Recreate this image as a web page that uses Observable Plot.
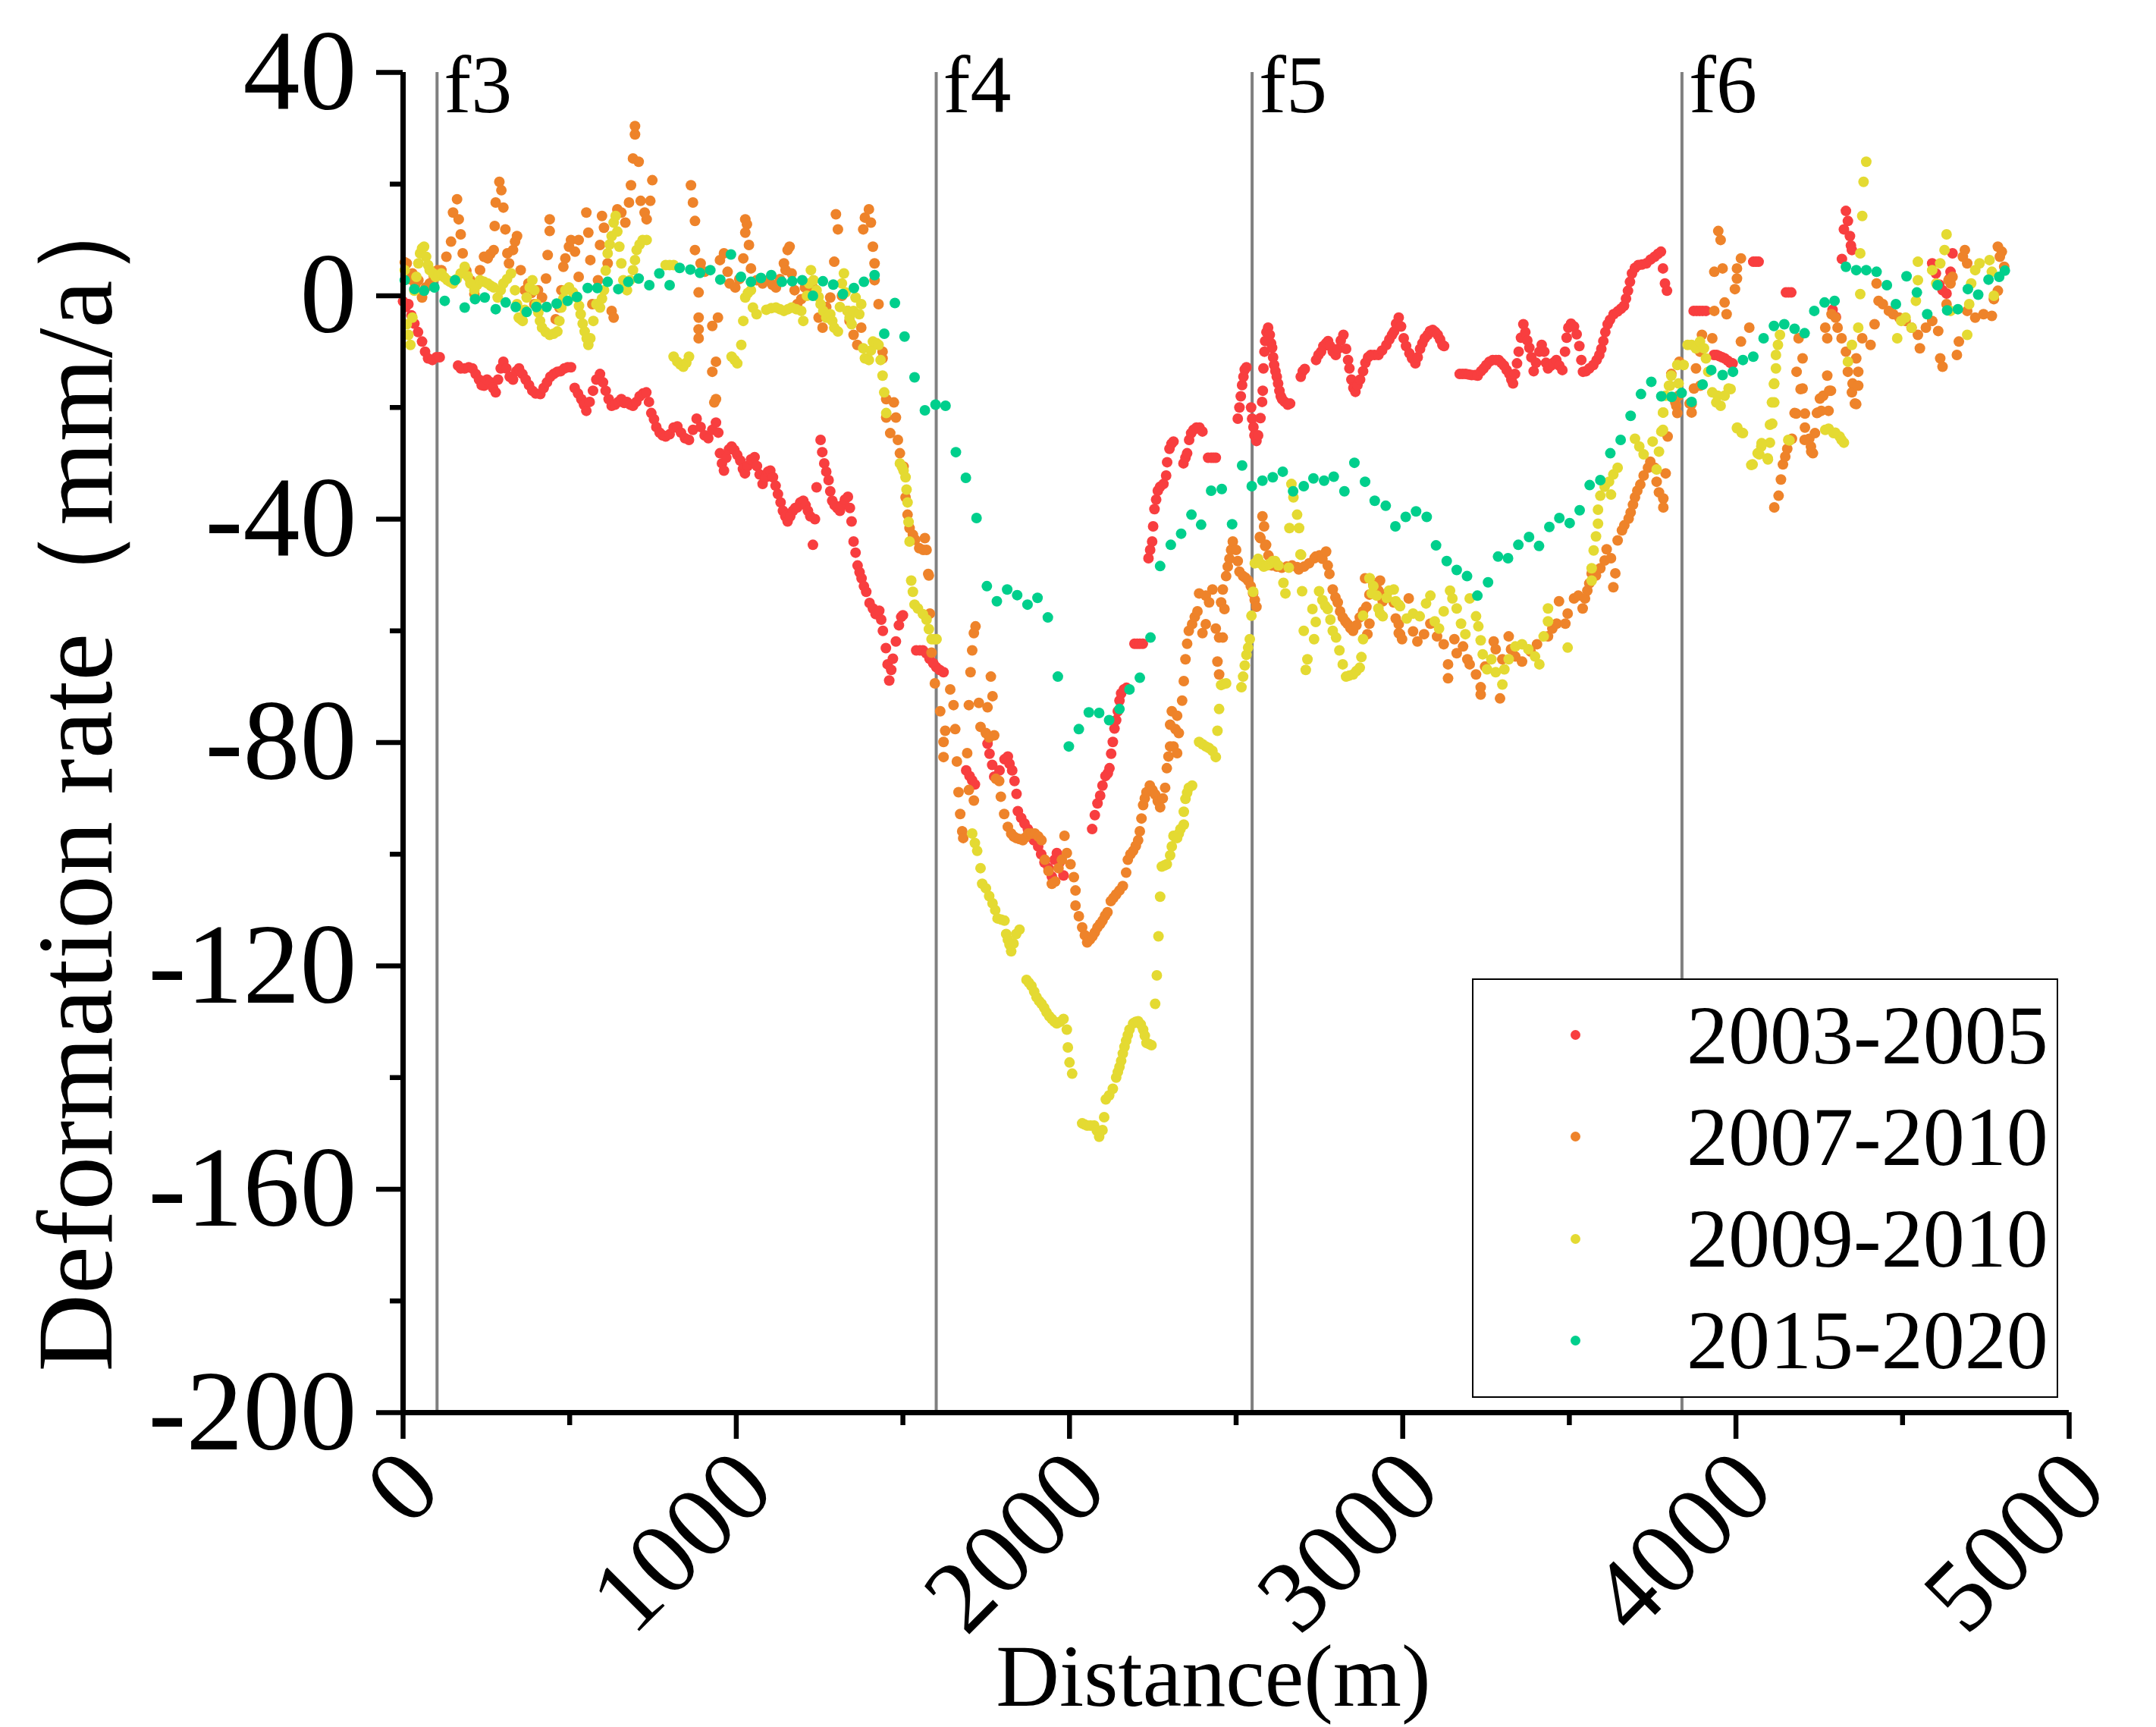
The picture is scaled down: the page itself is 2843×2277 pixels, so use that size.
<!DOCTYPE html>
<html>
<head>
<meta charset="utf-8">
<script src="https://cdn.jsdelivr.net/npm/d3@7"></script>
<script src="https://cdn.jsdelivr.net/npm/@observablehq/plot@0.6"></script>
<style>
  html, body { margin: 0; padding: 0; background: #fff; }
  #wrap { position: relative; width: 2843px; height: 2277px; }
  #wrap svg { display: block; }
  #legend { position: absolute; left: 1941px; top: 1290px; width: 773px; height: 553px; box-sizing: border-box;
            border: 2.5px solid #000; background: #fff; font-family: "Liberation Serif", "Times New Roman", serif; }
  .ldot { position: absolute; width: 13px; height: 13px; border-radius: 50%; }
  .ltxt { position: absolute; font-size: 110px; line-height: 110px; color: #000; white-space: nowrap; }
</style>
</head>
<body>
<div id="wrap"></div>
<script>
// ---------- data (distance m, deformation rate mm/a) ----------
const seriesNames = ["2003-2005", "2007-2010", "2009-2010", "2015-2020"];
const seriesColors = ["#F83E3F", "#EE832A", "#E4DA32", "#00CF8C"];

const faultNames = ["f3", "f4", "f5", "f6"];
const faultPos = [102, 1600, 2548, 3838];

const xMajor = [0, 1000, 2000, 3000, 4000, 5000];
const xMinor = [500, 1500, 2500, 3500, 4500];
const yMajor = [40, 0, -40, -80, -120, -160, -200];
const yMinor = [20, -20, -60, -100, -140, -180];

const red = [
[0,-1],[8,-2],[16,-1.5],[25,-3.5],[34,-5],[45,-6.5],[57,-8.2],[66,-10],[75,-11.2],[88,-11.5],[100,-11],[110,-11],
[165,-12.5],[173,-13],[185,-13],[197,-12.8],[208,-13],[218,-14],[228,-15],[236,-16],[243,-16.1],[252,-15],[262,-15.5],[270,-16.5],[278,-17.3],[285,-15],[293,-13],[301,-11.8],[310,-13],[320,-14.5],[330,-15],[340,-13.5],[348,-13],[358,-14],[368,-15],[378,-16],[388,-17],[398,-17.5],[412,-17.6],[422,-16.5],[432,-15.5],[442,-14.5],[452,-14],[463,-13.6],[473,-13.5],[484,-13],[494,-12.8],[504,-12.8],
[515,-16.5],[525,-17.5],[535,-18.5],[543,-19.5],[550,-20.6],[560,-19],[570,-17],[580,-15],[591,-14],[600,-15.5],[608,-17],[617,-18.5],[626,-19.7],[636,-19.5],[646,-19],[655,-18.5],[664,-19.2],[672,-19],[682,-19.5],[690,-19.7],[700,-19],[710,-18],[720,-17.5],[730,-17.3],[738,-19],[745,-21],[753,-22.1],[760,-23.5],[770,-24.5],[779,-25],[788,-25.2],[800,-24.8],[812,-23.6],[823,-23.4],[834,-24.5],[846,-25.5],[858,-25.8],[870,-24],[881,-22],[893,-23.5],[905,-25],[916,-25.5],[928,-24],[939,-22.7],[946,-24.5],[951,-28.2],[957,-30],[963,-31.3],[970,-29],[978,-27.5],[986,-27],[994,-27.6],[1003,-28.5],[1012,-29.5],[1020,-31],[1026,-31.8],[1034,-30.5],[1044,-29.3],[1055,-28.9],[1062,-30.5],[1070,-32],[1079,-33.7],[1088,-32.5],[1095,-31.5],[1102,-31.3],[1110,-32.5],[1118,-34],[1125,-35.5],[1133,-37],[1140,-38.5],[1147,-39.5],[1154,-40.4],[1162,-39.5],[1170,-38.5],[1177,-38],[1183,-37.9],[1192,-37],[1201,-36.7],[1208,-37.5],[1215,-38.5],[1222,-39.5],[1230,-44.6],[1236,-40],[1241,-34.3],[1253,-25.8],[1258,-28],[1264,-30],[1270,-31.5],[1277,-33],[1282,-35],[1288,-36.7],[1295,-37.5],[1303,-38],[1311,-38.5],[1318,-37.5],[1326,-36.5],[1335,-36],[1341,-38],[1346,-40.4],[1352,-44],[1358,-46],[1364,-48.3],[1370,-49.5],[1376,-50.6],[1383,-52],[1390,-53],[1400,-55],[1410,-56],[1418,-57],[1429,-56.4],[1435,-58],[1440,-60],[1449,-63.1],[1454,-66],[1459,-68.9],[1465,-67],[1470,-65],[1479,-61.9],[1488,-59],[1495,-57.5],[1500,-57.2],[1540,-63.5],[1551,-63.5],[1560,-63.5],[1570,-64],[1580,-65],[1591,-65.8],[1600,-66.5],[1610,-67],[1622,-67.4],
[1690,-85],[1700,-86],[1708,-86.8],[1716,-87.5],
[1754,-80.2],[1760,-82],[1768,-84],[1774,-86.1],[1790,-85],[1805,-83],[1815,-82.5],[1820,-83.8],[1828,-85],[1835,-86.9],[1841,-89.2],[1845,-92.3],[1855,-93.5],[1865,-94.5],[1875,-95.5],[1884,-96.5],[1893,-97.5],[1906,-98.6],[1915,-100],[1925,-101.5],[1937,-102.5],[1947,-104],[1955,-101],[1962,-99.8],[1970,-101.5],[1982,-103.8],
[2068,-95.5],[2076,-93],[2084,-90.9],[2092,-89.5],[2099,-87.7],[2108,-86],[2115,-85.5],[2120,-84.6],[2125,-82],[2130,-79.9],[2135,-77.5],[2140,-76],[2145,-74.4],[2150,-72.5],[2155,-71.2],[2163,-70.5],[2171,-70.2],
[2195,-62.3],[2203,-62.3],[2211,-62.3],[2220,-62.3],
[2237,-47],[2242,-45.5],[2248,-44],[2251,-41.3],[2255,-38.2],[2260,-36.5],[2265,-34.9],[2272,-34.2],[2282,-33.7],[2290,-32.2],[2293,-29.8],[2300,-27.4],[2306,-26.5],[2312,-26.1],
[2342,-30],[2348,-29],[2353,-28.2],[2359,-25.8],[2365,-24.6],[2372,-24],[2381,-23.6],[2390,-23.6],[2399,-24.3],
[2416,-29],[2425,-29],[2432,-29],[2439,-29],
[2505,-22],[2510,-20],[2514,-18],[2518,-16],[2522,-14.5],[2526,-13.2],[2531,-12.8],
[2545,-20],[2548,-22],[2552,-23.5],[2555,-25],[2561,-26],[2566,-25],[2573,-21.9],[2578,-19],[2580,-17],[2582,-13],[2585,-10],[2587,-8.1],[2591,-6.5],[2596,-5.7],[2601,-7],[2605,-8.5],[2608,-9.3],[2611,-11],[2614,-12.4],[2618,-13.5],[2622,-14.5],[2626,-15.7],[2630,-17],[2634,-18],[2638,-18.5],[2646,-19],[2655,-19.5],[2662,-19.3],
[2694,-14.5],[2700,-13.5],[2706,-13.1],
[2740,-11.5],[2747,-10.6],[2755,-10],[2762,-9],[2770,-8.5],[2776,-8.1],[2782,-9],[2790,-10],[2799,-10.6],[2806,-9.5],[2814,-8],[2822,-7],[2830,-9.5],[2836,-11.5],[2840,-13],[2846,-15],[2852,-16.5],[2858,-17.2],[2864,-16],[2872,-15],[2881,-13.5],[2888,-12],[2896,-11],[2904,-10.6],[2915,-10.6],[2927,-10.6],[2938,-9.8],[2951,-8.8],[2960,-7.8],[2968,-7],[2974,-6.4],[2980,-5],[2988,-3.9],[2995,-5.5],[3003,-7.6],[3010,-9],[3020,-10.3],[3028,-11.2],[3038,-12.1],[3045,-11],[3052,-9.5],[3059,-8.5],[3066,-7.6],[3075,-7],[3082,-6.3],[3090,-6.1],[3098,-6.5],[3105,-7],[3112,-7.8],[3119,-8.8],[3124,-9],
[3171,-14],[3180,-14],[3189,-14],[3198,-14.1],[3207,-14.2],[3217,-14.2],[3225,-14.3],[3235,-13.5],[3243,-13],[3251,-12.4],[3260,-11.8],[3270,-11.5],[3280,-11.5],[3288,-11.5],[3296,-12],[3304,-12.5],[3312,-13.3],[3320,-14],[3326,-15],[3331,-15.7],[3337,-14],[3343,-12.1],[3348,-10],[3355,-7.5],[3362,-5.1],[3368,-6.5],[3374,-8],[3380,-9.3],[3386,-11],[3393,-13.5],[3400,-12],[3410,-10],[3417,-8.8],[3425,-10],[3430,-12],[3436,-13],[3445,-12.5],[3452,-12],[3461,-11.5],[3470,-12.5],[3479,-13.3],[3487,-10],[3492,-7.5],[3497,-5.7],[3505,-5],[3514,-5.5],[3522,-6.9],[3530,-9],[3536,-11.5],[3541,-13.6],[3550,-13.5],[3560,-13],[3572,-12.4],[3582,-11.5],[3590,-10.6],[3596,-9.5],[3602,-8.1],[3608,-6.5],[3615,-5.1],[3622,-4.3],[3633,-3.3],[3645,-2.8],[3655,-2.3],[3664,-1.8],[3670,-0.5],[3676,0.9],[3682,2.5],[3688,4],[3697,5],[3707,5.5],[3718,5.6],[3731,5.8],[3744,6.5],[3756,7],[3766,7.5],[3775,7.9],[3781,4.9],[3787,2.2],[3793,0.9],
[3873,-2.7],[3882,-2.7],[3891,-2.7],[3900,-2.7],[3910,-2.7],
[3934,-10.6],[3942,-10.6],[3950,-10.8],[3958,-11],[3966,-11.2],[3975,-11.6],[3983,-12],[3990,-12.1],
[4052,6.1],[4060,6.1],[4068,6.1],
[4150,0.6],[4158,0.6],[4166,0.6],
[4290,-2.5],[4300,-3.8],
[4318,6.6],[4324,11.9],[4330,15.2],[4336,13.4],[4342,10.7],[4345,9],[4348,8.2],
[4589,5.8],[4600,4],[4610,2],[4620,1],[4632,0.4],[4640,3],[4644,4.3],[4650,7.6]
];

const orange = [
[5,6],[11,5.8],[20,3],[28,4],[37,2],[46,2.8],[57,-0.3],[68,1.5],[80,2.2],[92,3.5],[104,4.6],[115,4.6],[130,7],[144,9.7],[150,14.9],[162,17.3],[167,13.7],[173,11],[179,7.6],[190,4.5],[202,2.8],[214,0.3],[222,2],[231,4.6],[243,7],[254,6.7],[262,7.5],[272,8.2],[275,12.5],[278,16.7],[289,20.4],[295,18.9],[301,15.8],[307,11.9],[313,7.6],[318,5.8],[330,8.2],[336,9.7],[342,10.7],[353,4.6],[365,1],[376,2.2],[385,0.5],[394,-1.5],[405,1],[417,-0.3],[429,3.1],[434,7.3],[440,13.7],[440,11.6],[458,-4.2],[469,-2.1],[475,1],[481,5.2],[487,6.7],[498,8.8],[504,10],[516,7.9],[527,10],[527,3.4],[550,14.9],[556,11.3],[562,6.4],[568,-1.5],[585,2.8],[591,9.1],[597,14.3],[603,12.2],[614,5.8],[626,-2.7],[632,-3.9],[643,15.5],[655,14.9],[667,13.1],[678,16.7],[684,19.8],[690,24.6],[696,28.9],[696,30.4],[707,24],[713,17],[725,14.9],[731,13.7],[742,17],[748,20.7],
[864,19.8],[870,16.7],[876,13.4],[876,8.2],[887,0.6],[887,-3.9],[887,-6],[887,-7.6],[893,5.8],[905,4.3],[928,-5.4],[945,-3.9],[939,-11.8],[928,-13.6],[939,-18.5],[934,-19.1],[951,6.4],[963,7.6],[974,4.3],[980,2.2],[997,1.5],[1009,3],[1021,6.7],[1027,13.7],[1032,12.8],[1027,11.3],[1038,9.1],[1044,4.9],[1061,2.8],[1079,2.2],[1096,2.8],[1108,2],[1119,1.5],[1131,3],[1143,5.8],[1148,4.6],[1154,8.2],[1160,8.8],[1166,4],[1175,1],[1183,-1.5],[1195,-0.6],[1206,1.5],[1220,1],[1235,1.2],[1247,-3.9],[1259,-5.7],[1270,-2],[1282,-0.3],[1294,6.1],[1299,14.6],[1305,11.9],[1317,0],[1334,-2.7],[1340,-4.5],[1352,-7],[1363,-8.8],[1375,-5.7],[1381,11.9],[1386,14],[1398,15.5],[1404,13.1],[1410,8.8],[1415,5.8],[1415,2.8],[1427,-1.5],[1439,-10],[1439,-11.2],[1450,-18.5],[1473,-19.1],[1479,-21.8],[1450,-21.8],[1462,-24.6],[1485,-25.8],[1491,-28.2],[1502,-30.6],[1508,-36.1],[1514,-39.2],[1520,-41.6],[1530,-42.8],[1537,-43.7],[1549,-45.2],[1561,-45.5],[1566,-43.4],[1571,-45.5],[1576,-49.8],[1578,-50.1],[1581,-56.9],[1586,-63.9],[1596,-69.4],[1612,-74.4],[1622,-79.9],[1622,-82.6],[1627,-77.9],[1642,-70.5],[1652,-73.3],[1657,-77.6],[1662,-83.4],[1667,-88.9],[1672,-92.8],[1678,-95.9],[1681,-97.1],[1693,-81.9],[1698,-73.3],[1703,-67.4],[1708,-63.5],[1713,-60.4],[1718,-59.2],[1713,-90.4],[1698,-88.5],[1728,-72.9],[1733,-77.2],[1749,-78.3],[1759,-79.1],[1754,-73.7],[1764,-68.2],[1769,-71.7],[1774,-78.7],[1779,-86.5],[1789,-86.9],[1794,-89.7],[1804,-92.8],[1815,-95.1],[1825,-96.3],[1832,-96.8],[1840,-97.1],[1850,-97.3],[1860,-97.5],[1868,-97],[1876,-96.3],[1886,-96.3],[1896,-96.3],[1906,-96.8],[1916,-97.5],[1926,-101],[1937,-103],[1947,-105.3],[1957,-104.9],[1967,-102.5],[1977,-101],[1985,-96.7],[1992,-99.8],[2003,-101.8],[2013,-104.1],[2018,-106.5],[2018,-109.2],[2028,-111.1],[2038,-113.1],[2046,-114.5],[2053,-115.8],[2061,-115.3],[2069,-114.7],[2076,-114],[2084,-113.1],[2092,-112.5],[2099,-111.9],[2107,-111],[2114,-110.4],[2124,-108.4],[2132,-107.8],[2140,-107.2],[2150,-106.5],[2160,-105.7],[2170,-103.3],[2175,-101],[2183,-100],[2191,-99.4],[2199,-98.5],[2206,-97.5],[2211,-95.9],[2216,-93.6],[2221,-91.2],[2226,-90],[2231,-88.9],[2241,-87.7],[2249,-88.5],[2257,-89.3],[2265,-90.5],[2272,-91.6],[2280,-90],[2287,-88.1],[2292,-84.6],[2297,-82.5],[2302,-80.7],[2312,-80.7],[2318,-77.6],[2302,-76.8],[2307,-74.4],[2323,-75.2],[2328,-78.3],[2323,-81.9],[2338,-72.5],[2343,-69],[2348,-65.1],[2353,-62.3],[2358,-60],[2368,-58.8],[2376,-57.5],[2384,-56.5],[2389,-53.3],[2399,-60.4],[2409,-58.8],[2409,-53.7],[2419,-54.9],[2429,-52.6],[2439,-59.6],[2449,-61.2],[2455,-54.9],[2460,-52.6],[2444,-65.5],[2449,-67.8],[2460,-61.2],[2465,-56.1],[2470,-50.2],[2475,-48.5],[2480,-47.1],[2485,-45.5],[2490,-44],[2500,-45.5],[2505,-47.5],[2510,-49.4],[2521,-50.2],[2528,-50.5],[2536,-51],[2544,-52],[2551,-53.3],[2556,-54.5],[2561,-55.7],[2571,-43.2],[2579,-39.5],[2584,-41.3],[2573,-43.4],[2590,-44.6],[2587,-44.8],[2597,-46.5],[2607,-48.3],[2622,-48.5],[2637,-48.7],[2652,-48.5],[2668,-48.3],[2683,-48.6],[2688,-49],[2704,-48.5],[2719,-47.9],[2735,-47],[2739,-46.7],[2750,-46.5],[2759,-47.1],[2770,-45.8],[2775,-48.3],[2780,-49.8],[2790,-52.6],[2798,-54],[2805,-54.9],[2812,-56.5],[2820,-57.6],[2828,-58.3],[2835,-58.8],[2843,-59.5],[2851,-60],[2861,-59],[2871,-57.6],[2881,-56.5],[2891,-55.7],[2900,-53.5],[2912,-51.8],[2922,-51.5],[2932,-51],[2952,-53.3],[2973,-54.9],[2988,-58.8],[2988,-60.4],
[2887,-50.6],[2914,-51.5],[2927,-52.8],[2940,-54.7],[2900,-58.7],[2894,-60.6],[2979,-57.8],[2992,-60.6],[2998,-61.5],[3018,-54.2],[3031,-60.1],[3044,-61.9],[3064,-60.6],[3083,-58.7],[3103,-61],[3123,-62.4],[3136,-66],[3136,-68.5],[3155,-61.5],[3162,-64],[3181,-62.8],[3194,-65.1],[3201,-66],[3220,-67.8],[3234,-70.1],[3234,-71.4],[3247,-66.4],[3273,-61.9],[3279,-63.3],[3292,-72.1],[3299,-65.1],[3318,-61],[3325,-63.3],[3338,-64.6],[3358,-65.5],[3384,-63.7],[3403,-62.4],[3436,-61],[3449,-59.6],[3462,-58.7],[3469,-54.7],[3488,-58.7],[3495,-56.9],[3514,-54.2],[3527,-53.7],[3540,-56],[3547,-54.2],[3554,-52.8],[3560,-51.5],[3567,-49.7],[3580,-50.1],[3593,-48.8],[3606,-47.4],[3612,-45.4],[3625,-47],[3638,-49.7],[3632,-52.2],[3645,-43.8],[3658,-42],[3665,-41.1],[3678,-39.9],[3684,-38.8],[3691,-37.4],[3697,-36.1],[3704,-34.9],[3713,-33.8],[3723,-32.2],[3736,-30.8],[3743,-29.7],[3756,-30.8],[3762,-33.3],[3769,-35.2],[3782,-36.3],[3782,-37.9],[3789,-31.8],[3795,-25.2],[3821,-19.7],[3828,-17.9],[3861,-19.3],[3867,-20.9],[3874,-16.6],[3893,-16.1],
[3806,-14],[3830,-11.8],[3818,-19.1],[3824,-21],[3867,-19.4],[3880,-13],[3892,-10],[3898,-7],[3929,-7.6],[3935,-2.7],[3966,-1.2],[3972,-3.3],[3935,4.3],[3960,4.9],[4003,4.9],[4003,3.1],[3997,1.2],[4015,6.7],[3947,11.6],[3954,10],[4040,-5.7],[4015,-8.2],
[4115,-37.9],[4128,-35.8],[4135,-32.9],[4141,-30.2],[4148,-28.8],[4154,-27.4],[4168,-25.6],[4181,-21.1],[4207,-21.1],[4207,-23.6],[4220,-25.6],[4226,-27.9],[4246,-20.9],[4252,-18.4],[4278,-20.6],[4285,-17],[4200,-16.6],[4357,-19.3],[4350,-15.7],
[4188,-7.6],[4200,-11.2],[4182,-13.6],[4194,-16.7],[4176,-21],[4206,-25.8],[4225,-27],[4231,-28.2],[4237,-24.6],[4243,-21],[4256,-20.6],[4262,-17.9],[4280,-17],[4274,-14.3],[4268,-5.7],[4274,-7.6],[4287,-3.3],[4299,-3.9],[4305,-5.7],[4317,-7.6],[4330,-10],[4336,-13.6],[4348,-17.3],[4361,-19.4],[4367,-16.1],[4367,-13.6],[4361,-11.2],[4379,-7.6],[4404,-8.8],[4416,-5.1],[4422,2.2],[4428,-0.9],[4441,-1.5],[4459,-2.7],[4472,-3.3],[4490,-3.9],[4509,-4.5],[4527,-5.7],[4546,-7],[4552,-9.4],[4570,-5.7],[4589,-4.5],[4607,-6.3],[4613,-11.2],[4620,-12.7],[4632,-1.5],[4644,2.2],[4638,2.8],[4650,3.4],[4663,-10.6],[4669,-8.2],[4681,7],[4687,8.2],[4694,5.8],[4694,-2.7],[4718,-3.9],[4743,-3.3],[4768,-3.6],[4774,-0.6],[4786,0.9],[4786,8.8],[4798,7.9],[4805,5.2],[4792,7]
];

const yellow = [
[5,4.6],[11,-5.1],[16,-7],[22,-8.8],[28,-3.9],[34,0.9],[40,3.4],[46,5.8],[51,7.6],[57,8.5],[63,8.8],[69,7],[75,5.5],[80,4.6],[90,4],[98,3.4],[106,3.6],[115,4],[124,3.3],[133,2.8],[141,2.5],[150,2.2],[161,3],[173,4],[185,5.2],[194,3.5],[202,2.2],[214,1],[222,2],[231,2.8],[243,2.5],[254,2.2],[263,1.8],[272,1.5],[284,-0.3],[293,1],[301,2.2],[312,3],[324,4],[336,1],[342,-1.5],[347,-3.9],[353,-4.2],[359,-4.5],[365,-2.5],[371,-0.3],[380,1.5],[388,2.8],[394,1],[400,-1.5],[406,-3],[411,-4.5],[417,-5.7],[428,-6.5],[440,-7],[452,-6.8],[463,-6.4],[469,-4.5],[475,-2.1],[481,-0.5],[487,1],[498,1.5],[510,0.6],[522,-0.3],[528,-1.8],[533,-3.3],[539,-5],[545,-6.4],[551,-7.6],[556,-8.8],[562,-7.6],[571,-4.5],[580,-1.5],[591,-2.1],[597,-0.5],[603,1],[608,4.5],[614,7.6],[620,9.2],[626,10.7],[632,13.1],[638,14.3],[643,11.5],[649,8.8],[655,5.8],[661,2.8],[667,1.9],[672,1],[681,2.8],[690,4.6],[696,6.4],[701,8.2],[710,9.2],[719,10],[731,10],[788,5.5],[800,5.5],[812,5.5],[812,-10.9],[823,-11.8],[832,-12.3],[841,-12.7],[850,-12],[858,-10.9],[986,-10.9],[995,-11.5],[1003,-12.1],[1015,-8.8],[1021,-4.5],[1027,-0.3],[1035,0.5],[1044,1],[1050,-2.1],[1061,-3.3],[1090,-2.5],[1105,-2.2],[1119,-2.1],[1131,-2.4],[1143,-2.7],[1155,-2.4],[1166,-2.1],[1180,-2.4],[1195,-2.7],[1201,-4.5],[1212,0],[1218,2.2],[1224,4.6],[1232,2.8],[1241,1],[1247,-0.2],[1253,-1.5],[1261,-2.7],[1270,-3.9],[1282,-3.3],[1288,-4.5],[1294,-5.7],[1305,-6.4],[1311,-2],[1317,2.2],[1323,4],[1328,0.6],[1334,-2.7],[1340,-3.9],[1346,-5.1],[1352,-2.7],[1358,-0.3],[1369,-3.3],[1375,-1.5],[1381,-9.4],[1386,-11.2],[1398,-11.5],[1404,-9.8],[1410,-8.2],[1421,-8.5],[1427,-8.8],[1433,-11.5],[1439,-14.3],[1444,-17.3],[1450,-21],[1491,-30],[1497,-30.6],[1502,-31.3],[1508,-32.5],[1511,-34.7],[1514,-37],[1517,-40.5],[1520,-44],[1525,-51],[1530,-53],[1535,-55.3],[1545,-56],[1560,-57],[1571,-58],[1578,-59.7],[1586,-61.5],[1594,-61.5],[1601,-61.5],
[1708,-96.3],[1716,-98],[1723,-99.4],[1733,-102.5],[1738,-105.3],[1749,-106.1],[1759,-107.5],[1769,-108.8],[1777,-110],[1784,-111.5],[1795,-111.7],[1805,-111.9],[1810,-114.3],[1815,-115.3],[1820,-116.2],[1825,-117.4],[1832,-116],[1840,-114.3],[1850,-113.5],[1871,-122.5],[1878,-123],[1886,-123.6],[1894,-124.6],[1901,-125.6],[1909,-126.3],[1916,-126.8],[1924,-127.5],[1931,-128.3],[1939,-129],[1947,-129.5],[1955,-130],[1962,-130.3],[1972,-130],[1982,-129.5],[1992,-131.4],[1995,-134.6],[2000,-137.3],[2008,-139.3],[2038,-148.2],[2045,-148.4],[2053,-148.6],[2063,-148.6],[2074,-148.6],[2082,-149.5],[2089,-150.6],[2099,-149.4],[2104,-147.1],[2109,-143.9],[2119,-143.2],[2130,-142],[2140,-140],[2145,-139],[2150,-138.1],[2155,-137],[2160,-135.7],[2165,-134.5],[2170,-133.4],[2175,-132.4],[2180,-131.4],[2191,-130.3],[2199,-130],[2206,-129.9],[2214,-130.5],[2221,-131.4],[2226,-132.5],[2231,-133.8],[2239,-134],[2246,-134.2],[2257,-126.8],[2262,-121.7],[2267,-114.7],[2272,-107.6],[2277,-102.2],[2285,-102],[2292,-101.8],[2302,-100.2],[2307,-98.6],[2312,-96.7],[2318,-97],[2323,-97.1],[2328,-96.3],[2333,-95.5],[2343,-94.7],[2343,-92.4],[2348,-90.1],[2353,-89],[2358,-88.1],[2368,-87.7],[2389,-79.9],[2399,-80.3],[2409,-80.7],[2419,-81],[2429,-81.5],[2439,-82.6],[2444,-77.9],[2449,-74],[2455,-69.7],[2462,-69.5],[2470,-69.4],[2516,-70.1],[2521,-68.2],[2526,-66.2],[2531,-64.3],[2536,-63],[2541,-61.5],[2546,-57.3],[2551,-53],[2556,-47.9],[2566,-47.1],[2575,-48],[2583,-48.5],[2592,-48.3],[2600,-48],[2610,-47.5],[2617,-47.5],[2627,-48.3],[2642,-51.4],[2648,-53.3],[2658,-48.7],[2660,-41.6],[2666,-33.7],[2672,-36.1],[2683,-39.2],[2689,-41.6],[2695,-46.4],[2693,-46.3],[2698,-52.9],[2703,-60],[2709,-67],[2714,-65.1],[2729,-56.1],[2734,-61.5],[2739,-58.4],[2749,-52.9],[2759,-54.5],[2767,-55.5],[2775,-56.1],[2783,-58],[2790,-60],[2800,-61.2],[2810,-63.5],[2820,-66],[2830,-68.2],[2840,-68],[2851,-67.8],[2861,-67.2],[2871,-66.6],[2876,-64.7],[2881,-61.5],[2881,-57.3],[2901,-50.6],[2912,-52],[2922,-53.7],[2932,-56.9],[2952,-54.1],[2973,-52.6],[2988,-55.3],
[2900,-50.6],[2907,-53.3],[2927,-56],[2940,-57.4],[2959,-52.8],[2979,-54.7],[2992,-55.6],[3012,-57.8],[3031,-56.9],[3051,-57.4],[3070,-55.1],[3083,-53.7],[3096,-58.3],[3109,-59.6],[3123,-56.5],[3142,-52.8],[3149,-54.2],[3162,-56],[3175,-58.7],[3188,-60.6],[3201,-54.2],[3220,-57.4],[3227,-59.2],[3234,-61.7],[3240,-64.2],[3253,-66.9],[3266,-65.1],[3279,-67.4],[3299,-69.6],[3305,-66.9],[3318,-65.1],[3338,-62.8],[3358,-62.4],[3377,-63.3],[3397,-64.6],[3410,-66],[3423,-61],[3436,-58.3],[3436,-56],[3495,-63],[3567,-51],[3567,-48.8],[3573,-45.6],[3580,-43.1],[3586,-40.8],[3586,-38.3],[3593,-35.8],[3606,-34.2],[3619,-33.3],[3625,-35.6],[3632,-32],[3645,-30.8],[3697,-25.6],[3710,-27],[3723,-28.4],[3750,-26.1],[3769,-27.9],[3762,-31.1],[3776,-24.3],[3782,-20.9],[3789,-17.9],[3802,-16.1],[3828,-15.7],[3945,-17.9],[3978,-16.6],[4004,-23.6],[4017,-24.5],[4050,-30.2],[4070,-28.4],[4076,-27],[4096,-29.3],[4102,-26.3],[4109,-22.9],[4115,-19.1],[4115,-15.7],[4161,-25.9],[4278,-23.8],[4298,-24.5],[4311,-25.2],[4324,-26.3],
[3781,-20.9],[3781,-24],[3799,-16.1],[3806,-14.3],[3824,-12.4],[3843,-12.4],[3855,-8.8],[3867,-8.8],[3880,-9.4],[3892,-8.2],[3904,-9.4],[3910,-11.2],[3917,-13.6],[3929,-17.3],[3941,-19.1],[3954,-19.7],[3966,-17.9],[3984,-16.7],[4003,-23.7],[4021,-24.6],[4046,-30.3],[4065,-28.2],[4077,-26.4],[4095,-29.1],[4102,-23.1],[4108,-19.1],[4114,-15.8],[4120,-13],[4120,-10.6],[4126,-8.8],[4132,-7],[4157,-25.8],[4268,-24],[4293,-24.6],[4317,-25.8],[4336,-11.8],[4348,-8.8],[4367,-5.7],[4373,0.3],[4373,7.6],[4379,14.3],[4383,20.4],[4391,24],[4484,-7.6],[4496,-4.5],[4509,-3.9],[4527,-5.7],[4540,-0.9],[4546,2.8],[4546,6.1],[4589,4.6],[4601,2.2],[4613,5.8],[4626,8.2],[4632,11],[4644,-2.7],[4694,-7],[4700,-1.5],[4706,2.2],[4718,4.6],[4731,5.8],[4761,6.4],[4774,0],[4768,4.3]
];

const green = [
[5,2.8],[34,1.2],[63,0.9],[94,1.5],[125,-0.9],[156,2.8],[185,-2.1],[216,-0.6],[245,-0.3],[278,-2.4],[308,-1.2],[338,-2],[371,-2.9],[400,-2],[431,-2],[461,-1.4],[494,-0.9],[522,-0.2],[554,1.4],[583,1.4],[614,2.5],[646,1.2],[676,2.5],[707,3.1],[739,1.9],[769,4],[800,1.9],[830,5],[862,4.7],[891,4.1],[922,4.6],[952,2.9],[984,7.4],[1014,3.4],[1044,2.5],[1074,3.2],[1105,3.7],[1137,2.5],[1168,2.6],[1198,2.8],[1230,0],[1260,2.6],[1291,2],[1320,0.3],[1353,1.4],[1383,2.5],[1415,3.7],[1444,-6.8],[1476,-1.3],[1505,-7.3],[1535,-14.6],[1566,-20.5],[1598,-19.5],[1628,-19.7],[1659,-28],[1689,-32.6],[1721,-39.8],
[1752,-52],[1782,-54.7],[1813,-52.6],[1843,-53.6],[1874,-55.3],[1904,-54.1],[1935,-57.6],[1965,-68.2],[1998,-80.7],[2028,-77.6],[2058,-74.6],[2089,-74.7],[2119,-76],[2150,-74],[2180,-70.5],[2211,-68.4],[2243,-61.2],[2272,-48.4],[2304,-44.6],[2335,-42.6],[2366,-39.2],[2395,-41],[2425,-34.9],[2457,-34.6],[2488,-40.9],[2518,-30.4],[2547,-34.1],[2579,-33.1],[2610,-32.5],[2640,-31.5],[2671,-35],[2703,-34.1],[2732,-32.7],[2764,-33.1],[2793,-32.4],[2825,-35],[2855,-29.9],[2887,-33.3],[2916,-36.7],[2949,-37.6],[2978,-41.3],[3009,-39.6],[3040,-38.6],[3072,-39.6],[3100,-44.7],[3132,-47.5],[3162,-49.1],[3193,-50.2],[3224,-53.7],[3256,-51.3],[3286,-46.7],[3316,-47],[3347,-44.6],[3379,-43.2],[3409,-44.8],[3440,-41.4],[3470,-39.8],[3501,-40.7],[3531,-38.4],[3561,-33.9],[3593,-33],[3623,-28.2],[3654,-25.8],[3684,-21.5],[3715,-17.6],[3746,-15.4],[3776,-18],[3807,-18.1],[3837,-17.4],[3867,-19],[3900,-15.9],[3926,-13.3],[3960,-14.2],[3991,-13.6],[4021,-11.5],[4052,-10.9],[4083,-7.6],[4114,-5.4],[4145,-5.1],[4176,-5.9],[4206,-6.7],[4235,-2.7],[4266,-1.2],[4296,-0.9],[4330,5.2],[4361,4.6],[4391,4.6],[4422,4.3],[4453,1.9],[4480,-1.5],[4512,3.5],[4543,0.6],[4574,-3.3],[4605,1.9],[4634,-2.6],[4666,-2.4],[4696,1.2],[4727,0.2],[4758,2.9],[4790,3.4],[4807,4.5]
];

const allSeries = [red, orange, yellow, green];

// ---------- chart ----------
const serif = "'Liberation Serif', 'Times New Roman', Times, serif";
const dotMarks = allSeries.map((s, i) =>
  Plot.dot(s, {x: d => d[0], y: d => d[1], r: 7, fill: seriesColors[i], stroke: "none"})
);

const chart = Plot.plot({
  width: 2843,
  height: 2277,
  marginLeft: 531,
  marginRight: 115,
  marginTop: 95,
  marginBottom: 415,
  x: {domain: [0, 5000]},
  y: {domain: [-200, 40]},
  style: {fontFamily: serif, background: "#fff", color: "#000", overflow: "visible"},
  marks: [
    Plot.ruleX(faultPos, {x: d => d, stroke: "#808080", strokeWidth: 4}),
    Plot.text(faultPos, {x: d => d, frameAnchor: "top", text: (d, i) => faultNames[i],
      textAnchor: "start", lineAnchor: "top", dx: 9, dy: -24, fontSize: 108, fill: "#000"}),
    ...dotMarks,
    Plot.axisY({ticks: yMajor, tickSize: 35, tickPadding: 26, tickFormat: d => String(d),
      fontSize: 150, strokeWidth: 6.5, label: null}),
    Plot.axisY({ticks: yMinor, tickSize: 17, text: null, strokeWidth: 6.5, label: null}),
    Plot.axisX({ticks: xMajor, tickSize: 35, text: null, strokeWidth: 6.5, label: null}),
    Plot.axisX({ticks: xMinor, tickSize: 17, text: null, strokeWidth: 6.5, label: null}),
    Plot.text(xMajor, {x: d => d, frameAnchor: "bottom", text: d => String(d), rotate: -45,
      textAnchor: "end", lineAnchor: "middle", dx: 24, dy: 75, fontSize: 135, fill: "#000"}),
    Plot.ruleX([0], {stroke: "#000", strokeWidth: 7}),
    Plot.ruleY([-200], {stroke: "#000", strokeWidth: 7}),
    Plot.text(["Distance(m)"], {frameAnchor: "bottom", text: d => d, lineAnchor: "middle",
      dx: -30, dy: 349, fontSize: 116, fill: "#000"}),
    Plot.text(["Deformation rate（mm/a）"], {frameAnchor: "left", text: d => d, rotate: -90,
      textAnchor: "middle", lineAnchor: "middle", dx: -430, dy: 39, fontSize: 142, fill: "#000"})
  ]
});

const wrap = document.getElementById("wrap");
wrap.appendChild(chart);

// ---------- legend (inside plot area, bottom right) ----------
const legend = document.createElement("div");
legend.id = "legend";
seriesNames.forEach((name, i) => {
  const cy = 72.5 + i * 134.3;
  const dot = document.createElement("div");
  dot.className = "ldot";
  dot.style.background = seriesColors[i];
  dot.style.left = "128px";
  dot.style.top = (cy - 6.5) + "px";
  const txt = document.createElement("div");
  txt.className = "ltxt";
  txt.textContent = name;
  txt.style.left = "281px";
  txt.style.top = (cy - 55) + "px";
  legend.appendChild(dot);
  legend.appendChild(txt);
});
wrap.appendChild(legend);
</script>
</body>
</html>
